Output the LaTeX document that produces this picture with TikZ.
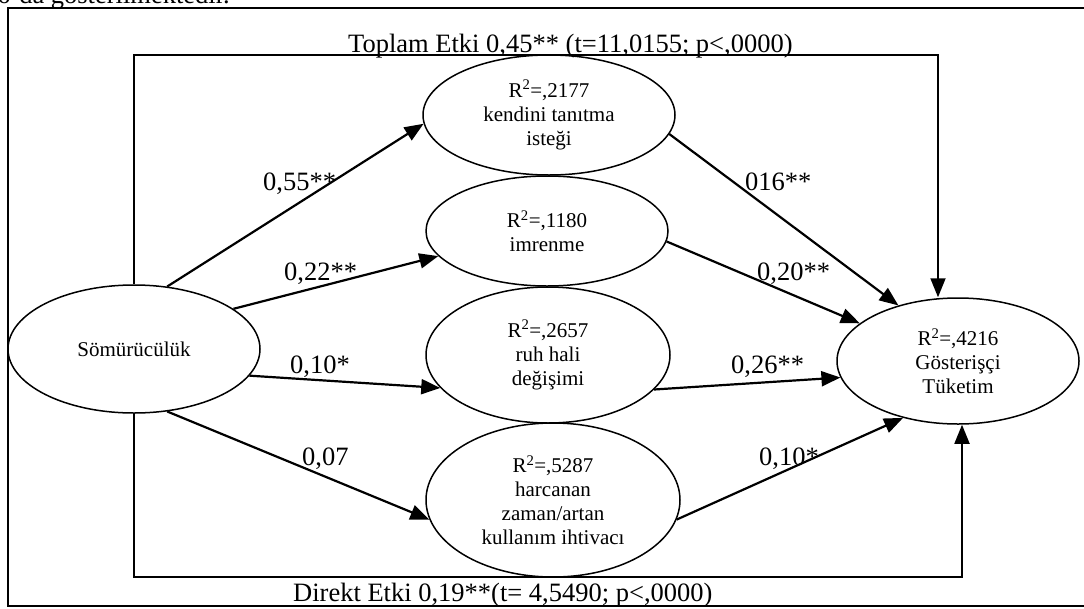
\documentclass[tikz,border=0pt]{standalone}
\usepackage{fontspec}
\setmainfont{Liberation Serif}
\usetikzlibrary{shapes.geometric,arrows.meta}

\begin{document}
\begin{tikzpicture}[x=1pt,y=-1pt,
  latent/.style={ellipse,draw,line width=1.5pt,inner sep=0pt,align=center,
                 font=\fontsize{21}{24}\selectfont},
  effect/.style={line width=2.2pt,-{Triangle[length=19pt,width=15pt]}},
  loop/.style={line width=1.8pt,-{Triangle[length=19pt,width=15pt]}},
  coef/.style={font=\fontsize{26.5}{30}\selectfont,inner sep=0pt,anchor=base west},
  frame/.style={line width=2pt}]
\useasboundingbox (0,0) rectangle (1084,608);
\clip (0,0) rectangle (1084,608);

% running text above the figure box
\node[coef] (cap) at (-3,3) {6’da gösterilmektedir.};

% outer box
\draw[frame] (8,8) rectangle (1110,606);

% constructs
\node[latent, minimum width=252pt, minimum height=128pt] (som) at (134,349) {Sömürücülük};
\node[latent, minimum width=252pt, minimum height=120pt] (ken) at (549,115)
  {R\textsuperscript{2}=,2177\\kendini tanıtma\\isteği};
\node[latent, minimum width=242pt, minimum height=110pt] (imr) at (547,231)
  {R\textsuperscript{2}=,1180\\imrenme};
\node[latent, minimum width=244pt, minimum height=136pt] (ruh) at (548,355)
  {R\textsuperscript{2}=,2657\\ruh hali\\değişimi};
\node[latent, minimum width=254pt, minimum height=154pt] (har) at (553,500)
  {R\textsuperscript{2}=,5287\\harcanan\\zaman/artan\\kullanım ihtivacı};
\node[latent, minimum width=242pt, minimum height=126pt] (gos) at (958,361)
  {R\textsuperscript{2}=,4216\\Gösterişçi\\Tüketim};

% paths from the predictor to the mediators
\draw[effect] (som.62)  -- (ken.184);
\draw[effect] (som.22)  -- (imr.193);
\draw[effect] (som.347) -- (ruh.197);
\draw[effect] (som.298) -- (har.189);

% paths from the mediators to the outcome
\draw[effect] (ken.351) -- (gos.137);
\draw[effect] (imr.355) -- (gos.159);
\draw[effect] (ruh.342) -- (gos.188);
\draw[effect] (har.351) -- (gos.226);

% total and direct effect
\coordinate (tr) at (938,55);
\coordinate (br) at (962,577);
\draw[loop] (som.north) |- (tr) -- (tr |- gos.north);
\draw[loop] (som.south) |- (br) -- (br |- gos.south);

% coefficients
\node[coef] (c1) at (263,190) {0,55**};
\node[coef] (c2) at (284,280) {0,22**};
\node[coef] (c3) at (290,373) {0,10*};
\node[coef] (c4) at (302,465) {0,07};
\node[coef] (c5) at (745,190) {016**};
\node[coef] (c6) at (757,280) {0,20**};
\node[coef] (c7) at (731,373) {0,26**};
\node[coef] (c8) at (759,465) {0,10*};

\node[coef] (tot) at (348,52) {Toplam Etki 0,45** (t=11,0155; p<,0000)};
\node[coef] (dir) at (293,601) {Direkt Etki 0,19**(t= 4,5490; p<,0000)};
\end{tikzpicture}
\end{document}
